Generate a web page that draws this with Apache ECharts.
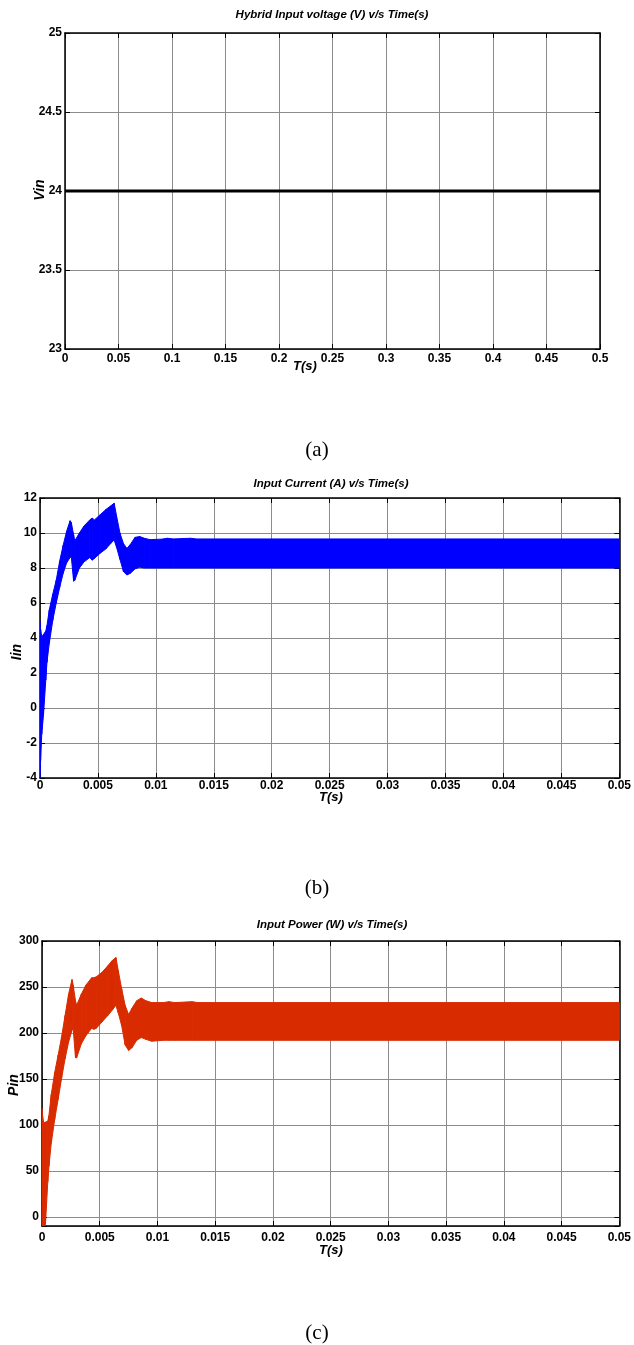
<!DOCTYPE html>
<html><head><meta charset="utf-8">
<script src="https://cdn.jsdelivr.net/npm/echarts@6/dist/echarts.min.js"></script>
<style>html,body{margin:0;padding:0;background:#fff}#c{width:634px;height:1345px}</style>
</head><body><div id="c"></div>
<script>
// ---- Data ----
// (a) Hybrid input voltage
const vinTime = [0, 0.5];
const vinValues = [24, 24];

// shared time samples for the envelopes of (b) and (c)
const envTime = [0, 0.00005, 0.00015, 0.0003, 0.0005, 0.0006, 0.0008, 0.0011, 0.0014, 0.0017, 0.002, 0.0023, 0.0026, 0.0027, 0.0029, 0.0030, 0.0034, 0.0038, 0.0043, 0.0045, 0.0047, 0.0052, 0.0057, 0.0061, 0.0064, 0.0066, 0.0069, 0.0072, 0.0075, 0.0078, 0.0082, 0.0086, 0.009, 0.0095, 0.0105, 0.011, 0.0115, 0.013, 0.0135, 0.02, 0.05];

// (b) Input current envelope (A)
const iinUpper = [4.93, 4.5, 4.07, 4.2, 4.4, 4.7, 5.6, 6.5, 7.3, 8.4, 9.3, 10.1, 10.7, 10.6, 9.9, 9.55, 10.0, 10.4, 10.75, 10.85, 10.75, 11.05, 11.35, 11.55, 11.7, 11.0, 10.0, 9.4, 9.12, 9.35, 9.75, 9.8, 9.7, 9.62, 9.65, 9.7, 9.66, 9.7, 9.66, 9.66, 9.66];
const iinLower = [-4.0, -3.0, -1.5, -0.4, 1.6, 2.6, 3.7, 5.0, 6.0, 6.9, 7.7, 8.3, 8.6, 8.66, 7.25, 7.3, 8.0, 8.35, 8.6, 8.45, 8.55, 8.85, 9.1, 9.4, 9.6, 9.2, 8.5, 7.8, 7.6, 7.7, 7.95, 8.05, 8.0, 8.0, 8.0, 8.0, 8.0, 8.0, 8.0, 8.0, 8.0];

// (c) Input power envelope (W)
const pinUpper = [118, 110, 102, 103, 104, 110, 133, 157, 176, 196, 219, 242, 258, 252, 235, 230, 242, 252, 260, 260, 261, 266, 273, 279, 282, 268, 248, 230, 220, 227, 235, 238, 235, 233, 233, 234, 233, 234, 233, 233, 233];
const pinLower = [-10, -10, -10, -8, 38, 55, 80, 106, 128, 151, 172, 190, 203, 205, 173, 173, 188, 197, 205, 204, 205, 212, 219, 225, 230, 222, 208, 187, 181, 184, 192, 195, 193, 191, 192, 192, 192, 192, 192, 192, 192];

// axis ranges
const axA = {xMin: 0, xMax: 0.5, xStep: 0.05, yMin: 23, yMax: 25, yStep: 0.5};
const axB = {xMin: 0, xMax: 0.05, xStep: 0.005, yMin: -4, yMax: 12, yStep: 2};
const axC = {xMin: 0, xMax: 0.05, xStep: 0.005, yMin: -10, yMax: 300, ySplit: 6};

// texts
const titles = ['Hybrid Input voltage (V) v/s Time(s)', 'Input Current (A) v/s Time(s)', 'Input Power (W) v/s Time(s)'];
const yNames = ['Vin', 'Iin', 'Pin'];
const xName = 'T(s)';
const captions = ['(a)', '(b)', '(c)'];

// ---- Chart ----
const FONT = '"Liberation Sans", Arial, Helvetica, sans-serif';
const grids = [
  {left: 65, top: 33, width: 535, height: 316},
  {left: 40, top: 498, width: 583, height: 280},
  {left: 42, top: 941, width: 582, height: 285}
];
const ranges = [axA, axB, axC];
const labelMargins = [[4, 3], [2, 3], [6, 3]];

function zip(a, b) { return a.map((v, i) => [v, b[i]]); }

const xAxes = [], yAxes = [];
ranges.forEach((r, i) => {
  const lineStyle = {color: '#000', width: 1.5};
  const tick = {show: true, inside: true, length: 5, lineStyle: {color: '#000', width: 1}};
  const label = {color: '#000', fontFamily: FONT, fontWeight: 'bold', fontSize: 12};
  const split = {show: true, lineStyle: {color: '#8c8c8c', width: 1}};
  const yInt = r.yStep ? {interval: r.yStep} : {splitNumber: r.ySplit};
  xAxes.push({type: 'value', gridIndex: i, position: 'bottom', min: r.xMin, max: r.xMax, interval: r.xStep,
    axisLine: {show: true, onZero: false, lineStyle}, axisTick: tick,
    axisLabel: Object.assign({}, label, {margin: labelMargins[i][0]}), splitLine: split});
  xAxes.push({type: 'value', gridIndex: i, position: 'top', min: r.xMin, max: r.xMax, interval: r.xStep,
    axisLine: {show: true, onZero: false, lineStyle}, axisTick: tick, axisLabel: {show: false}, splitLine: {show: false}});
  yAxes.push(Object.assign({type: 'value', gridIndex: i, position: 'left', min: r.yMin, max: r.yMax,
    axisLine: {show: true, onZero: false, lineStyle}, axisTick: tick,
    axisLabel: Object.assign({}, label, {margin: labelMargins[i][1], formatter: v => (v < r.yMin + 1e-9 && r.ySplit ? '' : String(v))}),
    splitLine: split}, yInt));
  yAxes.push(Object.assign({type: 'value', gridIndex: i, position: 'right', min: r.yMin, max: r.yMax,
    axisLine: {show: true, onZero: false, lineStyle}, axisTick: tick, axisLabel: {show: false}, splitLine: {show: false}}, yInt));
});

const BLUE = '#0000ff', RED = '#d92b00';
function band(idx, lower, upper, color) {
  const data = envTime.map((t, i) => [t, lower[i], upper[i]]);
  return {
    type: 'custom', xAxisIndex: idx * 2, yAxisIndex: idx * 2, data, clip: true, z: 3,
    encode: {x: 0, y: [1, 2]},
    renderItem(params, api) {
      const i = params.dataIndex;
      if (i >= data.length - 1) return null;
      const a = data[i], b = data[i + 1];
      const pts = [api.coord([a[0], a[2]]), api.coord([b[0], b[2]]), api.coord([b[0], b[1]]), api.coord([a[0], a[1]])];
      return {type: 'polygon', shape: {points: pts}, style: {fill: color, stroke: color, lineWidth: 1}};
    }
  };
}

const series = [
  {type: 'line', xAxisIndex: 0, yAxisIndex: 0, data: zip(vinTime, vinValues), showSymbol: false,
    lineStyle: {color: '#000', width: 3}, z: 3},
  band(1, iinLower, iinUpper, BLUE),
  band(2, pinLower, pinUpper, RED)
];

const titleCenters = [[332, 15], [331, 484], [332, 925]];
const yNamePos = [[40, 190], [17, 652], [14, 1085]];
const xNamePos = [[305, 366], [331, 797], [331, 1250]];
const capPos = [[317, 450], [317, 888], [317, 1333]];

const graphic = [];
titles.forEach((t, i) => {
  graphic.push({type: 'text', x: titleCenters[i][0], y: titleCenters[i][1],
    style: {text: t, fontFamily: FONT, fontWeight: 'bold', fontStyle: 'italic', fontSize: 11.5, fill: '#000', align: 'center', verticalAlign: 'middle'}});
  graphic.push({type: 'text', x: yNamePos[i][0], y: yNamePos[i][1], rotation: Math.PI / 2,
    style: {text: yNames[i], fontFamily: FONT, fontWeight: 'bold', fontStyle: 'italic', fontSize: 14, fill: '#000', align: 'center', verticalAlign: 'middle'}});
  graphic.push({type: 'text', x: xNamePos[i][0], y: xNamePos[i][1],
    style: {text: xName, fontFamily: FONT, fontWeight: 'bold', fontStyle: 'italic', fontSize: 13, fill: '#000', align: 'center', verticalAlign: 'middle'}});
  graphic.push({type: 'text', x: capPos[i][0], y: capPos[i][1],
    style: {text: captions[i], fontFamily: '"Liberation Serif", "Times New Roman", serif', fontSize: 21, fill: '#000', align: 'center', verticalAlign: 'middle'}});
});

const chart = echarts.init(document.getElementById('c'), null, {renderer: 'canvas'});
chart.setOption({
  animation: false,
  backgroundColor: '#fff',
  grid: grids,
  xAxis: xAxes,
  yAxis: yAxes,
  series,
  graphic
});
</script>
</body></html>
